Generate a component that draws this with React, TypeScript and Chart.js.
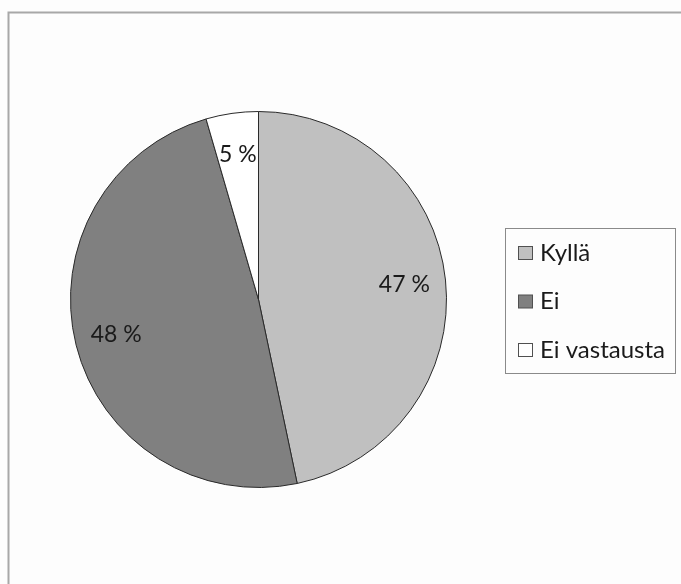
import React, { useEffect, useRef } from "react";
import { Chart, registerables } from "chart.js";

Chart.register(...registerables);

const categories = ["Kyllä", "Ei", "Ei vastausta"];
const values = [46.7, 48.8, 4.5];
const labelsText = ["47 %", "48 %", "5 %"];
const colors = ["#c0c0c0", "#808080", "#ffffff"];

const FONT = "Lato, 'Open Sans', sans-serif";

const framePlugin = {
  id: "frame",
  beforeDraw(chart: any) {
    const ctx = chart.ctx;
    ctx.save();
    ctx.fillStyle = "#fdfdfd";
    ctx.fillRect(0, 0, chart.width, chart.height);
    ctx.strokeStyle = "#a8a8a8";
    ctx.lineWidth = 2;
    ctx.beginPath();
    ctx.moveTo(chart.width, 12.5);
    ctx.lineTo(8.5, 12.5);
    ctx.lineTo(8.5, chart.height);
    ctx.stroke();
    ctx.restore();
  },
};

const sliceLabelPlugin = {
  id: "sliceLabels",
  afterDatasetsDraw(chart: any) {
    const ctx = chart.ctx;
    const meta = chart.getDatasetMeta(0);
    ctx.save();
    ctx.font = `23px ${FONT}`;
    ctx.fillStyle = "#1a1a1a";
    ctx.textAlign = "center";
    ctx.textBaseline = "middle";
    meta.data.forEach((arc: any, i: number) => {
      const p = arc.getProps(["x", "y", "startAngle", "endAngle", "outerRadius"], true);
      const mid = (p.startAngle + p.endAngle) / 2;
      const r = p.outerRadius * 0.78;
      ctx.fillText(labelsText[i], p.x + Math.cos(mid) * r, p.y + Math.sin(mid) * r);
    });
    ctx.restore();
  },
};

const legendPlugin = {
  id: "boxLegend",
  afterDraw(chart: any) {
    const ctx = chart.ctx;
    const ds = chart.data.datasets[0];
    const x0 = 505, y0 = 228, w = 170, h = 145;
    ctx.save();
    ctx.strokeStyle = "#8a8a8a";
    ctx.lineWidth = 1;
    ctx.strokeRect(x0 + 0.5, y0 + 0.5, w, h);
    ctx.font = `24px ${FONT}`;
    ctx.textBaseline = "middle";
    ctx.textAlign = "left";
    chart.data.labels.forEach((lab: string, i: number) => {
      const cy = y0 + 25 + i * 48.5;
      ctx.fillStyle = ds.backgroundColor[i];
      ctx.fillRect(518.5, cy - 6.5, 14, 13);
      ctx.strokeStyle = "#505050";
      ctx.strokeRect(518.5, cy - 6.5, 14, 13);
      ctx.fillStyle = "#1a1a1a";
      ctx.fillText(lab, 540, cy);
    });
    ctx.restore();
  },
};

export default function App() {
  const ref = useRef<HTMLCanvasElement>(null);
  useEffect(() => {
    if (!ref.current) return;
    const chart = new Chart(ref.current, {
      type: "pie",
      data: {
        labels: categories,
        datasets: [
          {
            data: values,
            backgroundColor: colors,
            borderColor: "#2a2a2a",
            borderWidth: 1,
            hoverOffset: 0,
          },
        ],
      },
      options: {
        animation: false,
        responsive: false,
        maintainAspectRatio: false,
        layout: { padding: { left: 70, top: 111, right: 234, bottom: 96 } },
        plugins: {
          legend: { display: false },
          tooltip: { enabled: false },
        },
      },
      plugins: [framePlugin, sliceLabelPlugin, legendPlugin],
    });
    return () => chart.destroy();
  }, []);
  return (
    <div style={{ position: "absolute", left: 0, top: 0, width: 681, height: 584 }}>
      <canvas ref={ref} width={681} height={584} style={{ width: 681, height: 584 }} />
    </div>
  );
}
